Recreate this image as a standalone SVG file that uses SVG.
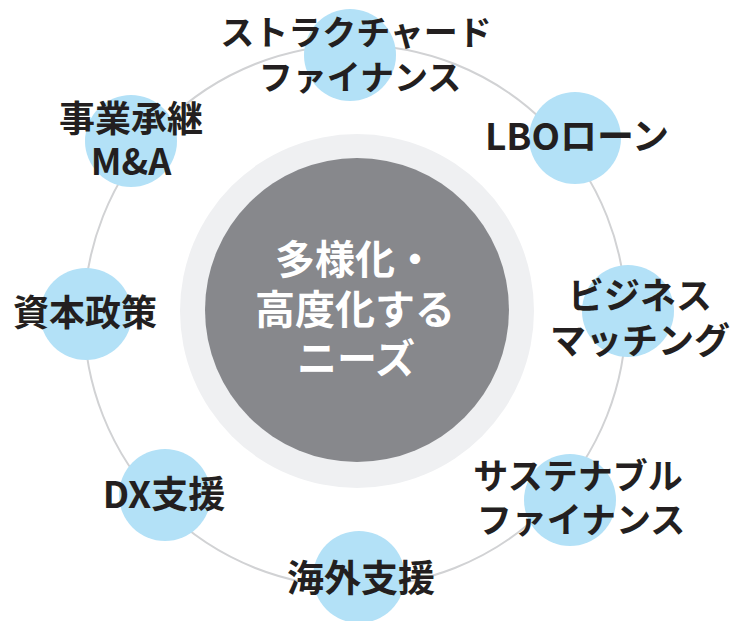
<svg xmlns="http://www.w3.org/2000/svg" width="736" height="621" viewBox="0 0 736 621">
<style>
.lbl{font-family:"Noto Sans CJK JP","Noto Sans",sans-serif;font-weight:bold;font-size:36px;fill:#231f20;text-anchor:middle}
.ctr{font-family:"Noto Sans CJK JP","Noto Sans",sans-serif;font-weight:bold;font-size:40px;fill:#ffffff;text-anchor:middle}
.node{fill:#b3e1f7}
</style>
<rect width="736" height="621" fill="#ffffff"/>
<g id="connectors">
<circle cx="355" cy="316" r="271" fill="none" stroke="#d1d2d4" stroke-width="2"/>
</g>
<g id="center">
<circle cx="357" cy="311" r="177" fill="#eff0f2"/>
<circle cx="357" cy="310" r="152" fill="#87888c"/>
<text class="ctr" x="355" y="274">多様化・</text>
<text class="ctr" x="355" y="324">高度化する</text>
<text class="ctr" x="356" y="373">ニーズ</text>
</g>
<g id="node-structured">
<circle class="node" cx="350" cy="55" r="46"/>
<text class="lbl" x="356" y="45" style="font-size:34px">ストラクチャード</text>
<text class="lbl" x="360" y="90" style="font-size:34px">ファイナンス</text>
</g>
<g id="node-lbo">
<circle class="node" cx="575" cy="138" r="46"/>
<text class="lbl" x="577" y="150" style="font-size:37px">LBOローン</text>
</g>
<g id="node-matching">
<circle class="node" cx="628" cy="311" r="46"/>
<text class="lbl" x="640" y="309">ビジネス</text>
<text class="lbl" x="640" y="354">マッチング</text>
</g>
<g id="node-sustainable">
<circle class="node" cx="570" cy="500" r="46"/>
<text class="lbl" x="578" y="489" style="font-size:35px">サステナブル</text>
<text class="lbl" x="581" y="533" style="font-size:35px">ファイナンス</text>
</g>
<g id="node-overseas">
<circle class="node" cx="359" cy="577" r="46"/>
<text class="lbl" x="361" y="592" style="font-size:37px">海外支援</text>
</g>
<g id="node-dx">
<circle class="node" cx="165" cy="495" r="46"/>
<text class="lbl" x="164" y="508" style="font-size:37px">DX支援</text>
</g>
<g id="node-capital">
<circle class="node" cx="86" cy="314" r="46"/>
<text class="lbl" x="85" y="326">資本政策</text>
</g>
<g id="node-succession">
<circle class="node" cx="131" cy="141" r="46"/>
<text class="lbl" x="131" y="132">事業承継</text>
<text class="lbl" x="131" y="175">M&amp;A</text>
</g>
</svg>
